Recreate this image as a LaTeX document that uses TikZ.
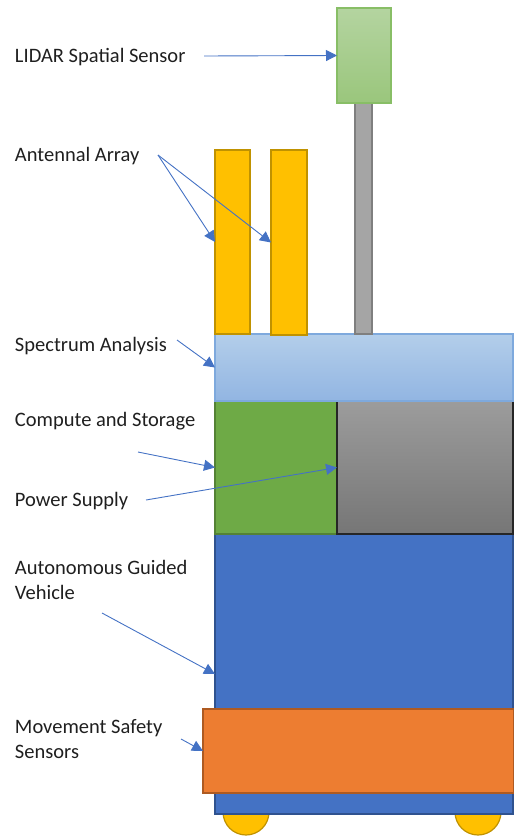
\documentclass[tikz,border=0pt]{standalone}
\usepackage{fontspec}
\setmainfont{Carlito}
\usetikzlibrary{arrows.meta}

\definecolor{txt}{HTML}{1F1F1F}
\definecolor{arrowblue}{HTML}{4472C4}
\definecolor{lidartop}{HTML}{B4D4A0}
\definecolor{lidarbot}{HTML}{9AC67C}
\definecolor{lidarline}{HTML}{88BE66}
\definecolor{polefill}{HTML}{A5A5A5}
\definecolor{poleline}{HTML}{7F7F7F}
\definecolor{antfill}{HTML}{FFC000}
\definecolor{antline}{HTML}{C09200}
\definecolor{spectop}{HTML}{B3CEEA}
\definecolor{specbot}{HTML}{92B5E2}
\definecolor{specline}{HTML}{7EA9DD}
\definecolor{computefill}{HTML}{6EAA46}
\definecolor{computeline}{HTML}{548235}
\definecolor{powertop}{HTML}{9C9C9C}
\definecolor{powerbot}{HTML}{767676}
\definecolor{powerline}{HTML}{262626}
\definecolor{bodyfill}{HTML}{4472C4}
\definecolor{bodyline}{HTML}{2F528F}
\definecolor{safetyfill}{HTML}{ED7D31}
\definecolor{safetyline}{HTML}{AE5A21}

\begin{document}
\begin{tikzpicture}[x=1pt,y=-1pt,
  part/.style={rectangle, inner sep=0pt, outer sep=0pt, line width=1.2pt, anchor=north west},
  wheel/.style={circle, inner sep=0pt, outer sep=0pt, minimum size=46pt, line width=1.2pt,
                fill=antfill, draw=antline},
  lbl/.style={anchor=base west, inner sep=0pt, outer sep=0pt, align=left, text=txt,
              font=\fontsize{20.5}{25}\selectfont},
  callout/.style={draw=arrowblue, line width=0.9pt, -{Triangle[length=11pt,width=11pt]}}]

\useasboundingbox (0,0) rectangle (514,836);

% wheels sit behind the chassis and run off the bottom edge
\begin{scope}
  \clip (0,0) rectangle (514,836);
  \node[wheel] (wheelL) at (246,812) {};
  \node[wheel] (wheelR) at (478,812) {};
\end{scope}

% chassis
\node[part, fill=bodyfill, draw=bodyline, minimum width=298pt, minimum height=280pt] (body) at (215,534) {};
\node[part, fill=safetyfill, draw=safetyline, minimum width=311pt, minimum height=84pt] (safety) at (203,709) {};

% compute / power bay
\node[part, fill=computefill, draw=computeline, minimum width=122pt, minimum height=133pt] (compute) at (215,401) {};
\node[part, top color=powertop, bottom color=powerbot, draw=powerline, minimum width=176pt, minimum height=133pt] (power) at (337,401) {};

% spectrum analyser deck
\node[part, top color=spectop, bottom color=specbot, draw=specline, minimum width=298pt, minimum height=67pt] (spectrum) at (215,334) {};

% antennas
\node[part, fill=antfill, draw=antline, minimum width=35pt, minimum height=184pt] (antA) at (215,150) {};
\node[part, fill=antfill, draw=antline, minimum width=36pt, minimum height=185pt] (antB) at (271,150) {};

% LIDAR mast and head
\node[part, fill=polefill, draw=poleline, minimum width=17pt, minimum height=231pt] (pole) at (355,103) {};
\node[part, top color=lidartop, bottom color=lidarbot, draw=lidarline, minimum width=54pt, minimum height=95pt] (lidar) at (337,8) {};

% labels (base anchor of a two-line label is its last line)
\node[lbl] (tLidar) at (15,62) {LIDAR Spatial Sensor};
\node[lbl] (tAnt) at (15,161) {Antennal Array};
\node[lbl] (tSpec) at (15,351) {Spectrum Analysis};
\node[lbl] (tComp) at (15,426) {Compute and Storage};
\node[lbl] (tPow) at (15,506) {Power Supply};
\node[lbl] (tAgv) at (15,599) {Autonomous Guided\\Vehicle};
\node[lbl] (tSafe) at (15,758) {Movement Safety\\Sensors};

% callout start points
\coordinate (cLidar) at (204,56);
\coordinate (cAnt) at (158,155);
\coordinate (cSpec) at (177,340);
\coordinate (cComp) at (138,452);
\coordinate (cPow) at (146,500);
\coordinate (cAgv) at (102,613);
\coordinate (cSafe) at (181,739);

% callouts
\draw[callout] (cLidar) -- (lidar.west);
\draw[callout] (cAnt) -- (antA.west);
\draw[callout] (cAnt) -- (antB.west);
\draw[callout] (cSpec) -- (spectrum.west);
\draw[callout] (cComp) -- (compute.west);
\draw[callout] (cPow) -- (power.west);
\draw[callout] (cAgv) -- (body.west);
\draw[callout] (cSafe) -- (safety.west);

\end{tikzpicture}
\end{document}
